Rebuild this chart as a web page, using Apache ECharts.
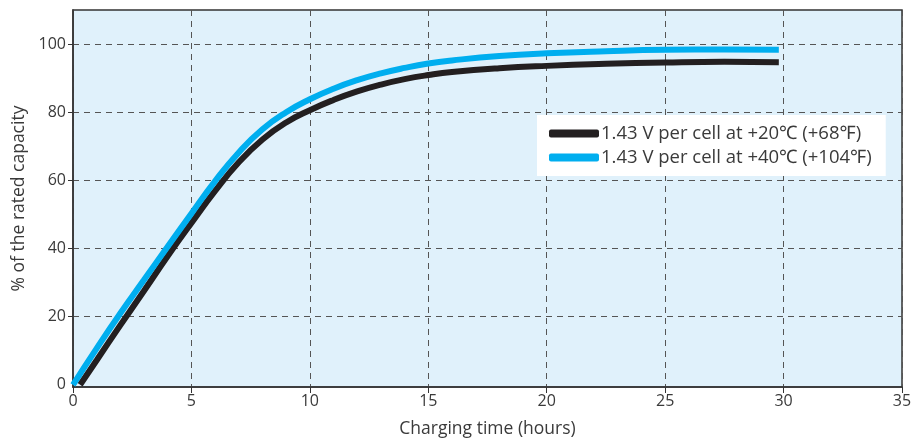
<!DOCTYPE html>
<html>
<head>
<meta charset="utf-8">
<script src="https://cdn.jsdelivr.net/npm/echarts@6/dist/echarts.min.js"></script>
<style>
  html, body { margin: 0; padding: 0; background: #fff; }
  #main { width: 921px; height: 443px; }
</style>
</head>
<body>
<div id="main"></div>
<script>
// charging curves (hours, % of rated capacity)
var hours20 = [0.3, 1, 2, 3, 4, 5, 6, 7, 8, 9, 10, 11, 12, 13, 14, 15, 16, 18, 20, 22.5, 25, 27.5, 29.8];
var cap20   = [0, 7.2, 17.5, 27.6, 37.8, 47.5, 56.9, 65.3, 72, 77, 80.6, 83.6, 86.1, 88.1, 89.7, 90.9, 91.8, 92.9, 93.6, 94.2, 94.6, 94.8, 94.7];
var hours40 = [0, 1, 2, 3, 4, 5, 6, 7, 8, 9, 10, 11, 12, 13, 14, 15, 16, 18, 20, 22.5, 25, 27.5, 29.8];
var cap40   = [0, 10.7, 21, 30.8, 40.6, 50.3, 59.8, 68.2, 75, 80, 83.8, 86.9, 89.4, 91.4, 93, 94.3, 95.2, 96.5, 97.3, 97.9, 98.3, 98.4, 98.3];
var yLabels = [0, 20, 40, 60, 80, 100];
var yTicks  = [20, 40, 60, 80, 100];
var names   = ['1.43 V per cell at +20℃ (+68℉)', '1.43 V per cell at +40℃ (+104℉)'];

function pairs(xs, ys) {
  return xs.map(function (x, i) { return [x, ys[i]]; });
}

var font = '"Open Sans", "Noto Sans", sans-serif';
var ink = '#3a3a3a';
var myChart = echarts.init(document.getElementById('main'));
myChart.setOption({
  animation: false,
  textStyle: { fontFamily: font },
  grid: {
    show: true,
    left: 73,
    right: 19,
    top: 10,
    bottom: 54,
    backgroundColor: '#e0f1fb',
    borderColor: '#333',
    borderWidth: 1.5
  },
  legend: {
    orient: 'vertical',
    left: 537,
    top: 115,
    backgroundColor: '#fff',
    padding: [9, 14, 9, 12],
    itemWidth: 50,
    itemHeight: 8,
    itemGap: 5,
    icon: 'roundRect',
    textStyle: { fontSize: 18.5, color: ink, fontFamily: font, padding: [0, 0, 0, -3] },
    data: names
  },
  xAxis: {
    type: 'value',
    min: 0,
    max: 35,
    interval: 5,
    name: 'Charging time (hours)',
    nameLocation: 'middle',
    nameGap: 33,
    nameTextStyle: { fontSize: 17.5, color: ink },
    axisLine: { onZero: false, lineStyle: { color: '#333', width: 1.5 } },
    axisTick: { length: 6, lineStyle: { color: '#333' } },
    axisLabel: { fontSize: 16, color: ink, margin: 6 },
    splitLine: { show: true, lineStyle: { type: [6, 5], color: '#555' } }
  },
  yAxis: {
    type: 'value',
    min: -0.65,
    max: 110,
    name: '% of the rated capacity',
    nameLocation: 'middle',
    nameGap: 45,
    nameTextStyle: { fontSize: 17.5, color: ink },
    axisLine: { show: true, onZero: false, lineStyle: { color: '#333', width: 1.5 } },
    axisTick: { show: true, length: 5, customValues: yTicks, lineStyle: { color: '#333' } },
    axisLabel: { fontSize: 16, color: ink, margin: 7, customValues: yLabels },
    splitLine: { show: true, lineStyle: { type: [6, 5], color: '#555' } }
  },
  series: [
    {
      name: names[0],
      type: 'line',
      smooth: 0.5,
      showSymbol: false,
      data: pairs(hours20, cap20),
      lineStyle: { color: '#231f20', width: 6 },
      itemStyle: { color: '#231f20' }
    },
    {
      name: names[1],
      type: 'line',
      smooth: 0.5,
      showSymbol: false,
      data: pairs(hours40, cap40),
      lineStyle: { color: '#00aeef', width: 6 },
      itemStyle: { color: '#00aeef' }
    }
  ]
});
</script>
</body>
</html>
